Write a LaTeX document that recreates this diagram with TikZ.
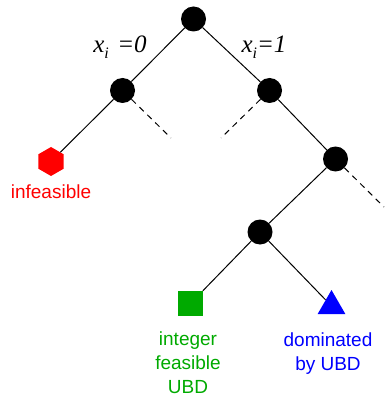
\documentclass[tikz,border=0pt]{standalone}
\usepackage{fontspec}
\setmainfont{Liberation Sans}
\newfontfamily\tms{Liberation Serif}
\usetikzlibrary{shapes.geometric}
\definecolor{infred}{RGB}{255,0,0}
\definecolor{intgreen}{RGB}{0,170,0}
\definecolor{domblue}{RGB}{0,0,255}
\begin{document}
\begin{tikzpicture}[x=1pt,y=-1pt,
  bb/.style={circle,fill=black,inner sep=0pt,minimum size=25pt},
  edge/.style={line width=1pt},
  dedge/.style={line width=1pt,dash pattern=on 6pt off 5pt},
  lbl/.style={font=\fontsize{19}{24}\selectfont,align=center,inner sep=0pt,anchor=base},
  mlbl/.style={font=\tms\itshape\fontsize{25}{25}\selectfont,inner sep=0pt,anchor=base}]
\useasboundingbox (0,0) rectangle (384,395);
\node[bb] (r) at (193.5,19) {};
\node[bb] (a) at (122.5,90.5) {};
\node[bb] (b) at (269.5,90.5) {};
\node[bb] (c) at (335.5,159) {};
\node[bb] (d) at (260,232) {};
\node[regular polygon,regular polygon sides=6,shape border rotate=30,fill=infred,inner sep=0pt,minimum size=29pt] (h) at (51,161.5) {};
\node[rectangle,fill=intgreen,inner sep=0pt,minimum size=25pt] (s) at (190.5,303.5) {};
\node[isosceles triangle,isosceles triangle apex angle=60,shape border rotate=90,fill=domblue,inner sep=0pt,minimum height=24pt] (t) at (331.5,306) {};
\coordinate (ae) at (171,138);
\coordinate (be) at (221,138);
\coordinate (ce) at (384,207);
\draw[edge] (r) -- (a);
\draw[edge] (r) -- (b);
\draw[edge] (a) -- (h);
\draw[dedge] (a) -- (ae);
\draw[dedge] (b) -- (be);
\draw[edge] (b) -- (c);
\draw[dedge] (c) -- (ce);
\draw[edge] (c) -- (d);
\draw[edge] (d) -- (s);
\draw[edge] (d) -- (t);
\node[lbl,text=infred] (hl) at (51,198) {infeasible};
\node[lbl,text=intgreen] (sl) at (188,393) {integer\\feasible\\UBD};
\node[lbl,text=domblue] (tl) at (328,370) {dominated\\by UBD};
\node[mlbl] (x0) at (120,53) {x\raisebox{-0.22em}{\fontsize{16}{16}\selectfont i}\,\,=0};
\node[mlbl] (x1) at (264,53) {x\raisebox{-0.22em}{\fontsize{16}{16}\selectfont i}=1};
\end{tikzpicture}
\end{document}
